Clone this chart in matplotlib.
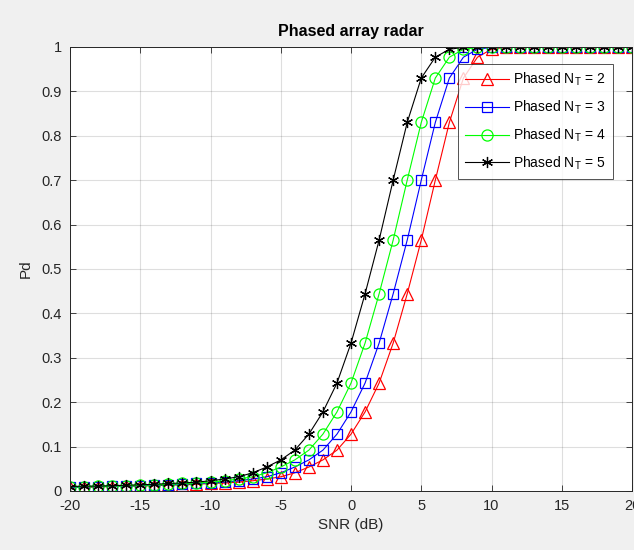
import matplotlib
matplotlib.use("Agg")
import matplotlib.pyplot as plt

plt.rcParams['font.family'] = ['Liberation Sans', 'DejaVu Sans']
plt.rcParams['axes.unicode_minus'] = False
plt.rcParams['mathtext.fontset'] = 'custom'
plt.rcParams['mathtext.rm'] = 'Liberation Sans'
plt.rcParams['mathtext.it'] = 'Liberation Sans'

snr_db = list(range(-20, 21))

pd_nt2 = [0.008, 0.008, 0.009, 0.010, 0.011, 0.011, 0.012, 0.013, 0.014, 0.015,
          0.017, 0.018, 0.020, 0.023, 0.027, 0.032, 0.041, 0.054, 0.070, 0.092,
          0.128, 0.178, 0.243, 0.333, 0.444, 0.565, 0.700, 0.830, 0.930, 0.977,
          0.995, 0.999, 1, 1, 1, 1, 1, 1, 1, 1, 1]
pd_nt3 = [0.008, 0.009, 0.010, 0.011, 0.011, 0.012, 0.013, 0.014, 0.015, 0.017,
          0.018, 0.020, 0.023, 0.027, 0.032, 0.041, 0.054, 0.070, 0.092, 0.128,
          0.178, 0.243, 0.333, 0.444, 0.565, 0.700, 0.830, 0.930, 0.977, 0.995,
          0.999, 1, 1, 1, 1, 1, 1, 1, 1, 1, 1]
pd_nt4 = [0.009, 0.010, 0.011, 0.011, 0.012, 0.013, 0.014, 0.015, 0.017, 0.018,
          0.020, 0.023, 0.027, 0.032, 0.041, 0.054, 0.070, 0.092, 0.128, 0.178,
          0.243, 0.333, 0.444, 0.565, 0.700, 0.830, 0.930, 0.977, 0.995, 0.999,
          1, 1, 1, 1, 1, 1, 1, 1, 1, 1, 1]
pd_nt5 = [0.010, 0.011, 0.011, 0.012, 0.013, 0.014, 0.015, 0.017, 0.018, 0.020,
          0.023, 0.027, 0.032, 0.041, 0.054, 0.070, 0.092, 0.128, 0.178, 0.243,
          0.333, 0.444, 0.565, 0.700, 0.830, 0.930, 0.977, 0.995, 0.999, 1,
          1, 1, 1, 1, 1, 1, 1, 1, 1, 1, 1]

series_labels = ['Phased N$_\\mathrm{T}$ = 2', 'Phased N$_\\mathrm{T}$ = 3',
                 'Phased N$_\\mathrm{T}$ = 4', 'Phased N$_\\mathrm{T}$ = 5']
x_ticks = [-20, -15, -10, -5, 0, 5, 10, 15, 20]
y_ticks = [0, 0.1, 0.2, 0.3, 0.4, 0.5, 0.6, 0.7, 0.8, 0.9, 1]
y_tick_labels = ['0', '0.1', '0.2', '0.3', '0.4', '0.5', '0.6', '0.7', '0.8', '0.9', '1']

fig = plt.figure(figsize=(6.34, 5.50), dpi=100, facecolor='#f0f0f0')
ax = fig.add_axes([70/634, 1 - 491/550, 562/634, 444/550])
ax.set_facecolor('white')

styles = [('#ff0000', '^', 8.5), ('#0000ff', 's', 6.5),
          ('#00ff00', 'o', 8), ('#000000', (6, 2, 0), 8)]
for data, lab, (c, m, ms) in zip([pd_nt2, pd_nt3, pd_nt4, pd_nt5], series_labels, styles):
    ax.plot(snr_db, data, color=c, lw=0.8, marker=m, ms=ms, mew=0.9,
            mfc='none', mec=c, label=lab)

ax.set_xlim(-20, 20)
ax.set_ylim(0, 1)
ax.set_xticks(x_ticks)
ax.set_yticks(y_ticks)
ax.set_yticklabels(y_tick_labels)
ax.tick_params(direction='in', length=4, width=0.6, top=True, right=True,
               labelsize=10.5, colors='#262626', pad=6)
ax.grid(True, color='#262626', alpha=0.15, lw=0.8)
for s in ax.spines.values():
    s.set_color('#262626')
    s.set_linewidth(0.7)

ax.set_title('Phased array radar', fontsize=11.5, fontweight='bold', pad=8)
ax.set_xlabel('SNR (dB)', fontsize=11, color='#262626', labelpad=3)
ax.set_ylabel('Pd', fontsize=11, color='#262626', labelpad=6)

leg = ax.legend(loc='upper right', bbox_to_anchor=(0.966, 0.962), borderaxespad=0,
                fontsize=10, handlelength=3.2, handletextpad=0.3, labelspacing=0.75,
                frameon=True, fancybox=False, borderpad=0.5)
leg.get_frame().set_edgecolor('#262626')
leg.get_frame().set_linewidth(0.7)

fig.savefig('out.png', dpi=100, facecolor=fig.get_facecolor())
